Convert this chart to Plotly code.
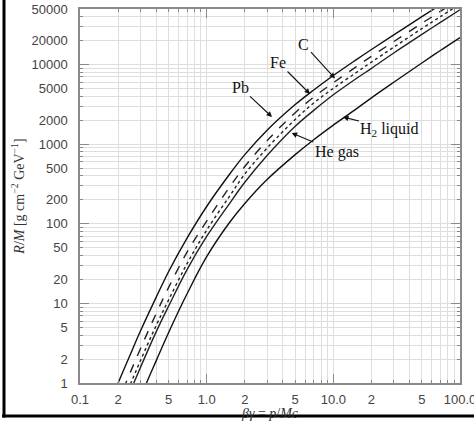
import plotly.graph_objects as go

# ---------------- data ----------------
bg_pb = [0.19, 0.2, 0.25, 0.3, 0.4, 0.5, 0.7, 1.0, 1.5, 2, 3, 5, 7, 10, 15, 20, 30, 50, 70]
rm_pb = [0.82, 1.0, 2.3, 4.5, 12, 25, 66, 165, 410, 740, 1500, 3150, 4800, 7300, 11400, 15500, 23600, 40000, 56500]

bg_fe = [0.22, 0.23, 0.25, 0.3, 0.4, 0.5, 0.7, 1.0, 1.5, 2, 3, 5, 7, 10, 15, 20, 30, 50, 70, 100]
rm_fe = [0.84, 1.0, 1.37, 2.7, 7.5, 15.8, 44, 108, 283, 525, 1110, 2490, 3910, 5920, 9290, 12720, 19460, 33100, 46700, 67600]

bg_c = [0.24, 0.25, 0.3, 0.4, 0.5, 0.7, 1.0, 1.5, 2, 3, 5, 7, 10, 15, 20, 30, 50, 70, 100]
rm_c = [0.83, 0.97, 1.91, 5.3, 11.0, 31.6, 83.4, 217, 422, 895, 2050, 3300, 5030, 7850, 10760, 16570, 28400, 40000, 57700]

bg_he = [0.25, 0.26, 0.3, 0.4, 0.5, 0.7, 1.0, 1.5, 2, 3, 5, 7, 10, 15, 20, 30, 50, 70, 100]
rm_he = [0.79, 0.92, 1.57, 4.42, 9.2, 26.6, 69.3, 176, 333, 721, 1680, 2660, 4180, 6600, 8990, 14000, 23970, 33950, 48900]

bg_h2 = [0.32, 0.335, 0.4, 0.5, 0.7, 1.0, 1.5, 2, 3, 5, 7, 10, 15, 20, 30, 50, 70, 100]
rm_h2 = [0.83, 1.0, 1.91, 4.28, 13.2, 38.6, 101.6, 180, 360, 740, 1140, 1740, 2740, 3826, 6000, 10480, 15070, 21900]

x_tickvals = [0.1, 0.2, 0.5, 1, 2, 5, 10, 20, 50, 100]
x_ticktext = ["0.1", "2", "5", "1.0", "2", "5", "10.0", "2", "5", "100.0"]
y_tickvals = [1, 2, 5, 10, 20, 50, 100, 200, 500, 1000, 2000, 5000, 10000, 20000, 50000]
y_ticktext = [str(v) for v in y_tickvals]
x_decades = [0.1, 1, 10, 100]
y_decades = [1, 10, 100, 1000, 10000]

x_minor = [m * d for d in [0.1, 1, 10] for m in range(1, 10)] + [100]
y_minor = [m * d for d in [1, 10, 100, 1000, 10000] for m in range(1, 10)]

# labels: (text, log10 bg of arrow tip, log10 R/M of arrow tip, ax, ay)
labels = [
    ("Pb", 0.516, 3.342, -32, -30),
    ("Fe", 0.816, 3.631, -32, -32),
    ("C", 1.013, 3.827, -31, -34),
    ("He gas", 0.671, 3.141, 45, 19),
    ("H<sub>2</sub> liquid", 1.076, 3.342, 47, 12),
]

# ---------------- figure ----------------
fig = go.Figure()
series = [
    (bg_pb, rm_pb, "solid", "#111111"),
    (bg_fe, rm_fe, "dash", "#222222"),
    (bg_c, rm_c, "dot", "#222222"),
    (bg_he, rm_he, "solid", "#222222"),
    (bg_h2, rm_h2, "solid", "#111111"),
]
for xs, ys, dash, col in series:
    fig.add_trace(go.Scatter(x=xs, y=ys, mode="lines",
                             line=dict(color=col, width=1.4, dash=dash, shape="spline", smoothing=1.0),
                             showlegend=False, hoverinfo="skip"))
# empty trace to carry the overlay axes (long decade ticks)
fig.add_trace(go.Scatter(x=[], y=[], xaxis="x2", yaxis="y2", showlegend=False, hoverinfo="skip"))

tickfont = dict(family="Liberation Sans, Arial, sans-serif", size=13, color="#444")
grid = "#dedede"
axcol = "#8a8a8a"
serif = "Liberation Serif, Times New Roman, serif"

fig.update_layout(
    template="none",
    width=474, height=421,
    margin=dict(l=80, r=14, t=9, b=38, pad=0),
    paper_bgcolor="white", plot_bgcolor="white",
    showlegend=False,
    xaxis=dict(type="log", range=[-1, 2], tickvals=x_tickvals, ticktext=x_ticktext,
               automargin=False, ticklabeloverflow="allow",
               ticks="inside", ticklen=3, tickcolor=axcol, tickwidth=1,
               showline=True, linecolor=axcol, linewidth=1.5, mirror="allticks",
               showgrid=True, gridcolor=grid, gridwidth=1, zeroline=False,
               tickfont=tickfont, ticklabelstandoff=4,
               minor=dict(tickvals=x_minor, ticks="inside", ticklen=3, tickcolor=axcol,
                          showgrid=True, gridcolor=grid, gridwidth=1),
               title=dict(text="<i>βγ</i> = <i>p</i>/<i>Mc</i>",
                          font=dict(family=serif, size=14, color="#333"),
                          standoff=2)),
    yaxis=dict(type="log", range=[0, 4.69897], tickvals=y_tickvals, ticktext=y_ticktext,
               automargin=False, ticklabeloverflow="allow",
               ticks="inside", ticklen=3, tickcolor=axcol, tickwidth=1,
               showline=True, linecolor=axcol, linewidth=1.5, mirror="allticks",
               showgrid=True, gridcolor=grid, gridwidth=1, zeroline=False,
               tickfont=tickfont, ticklabelstandoff=8,
               minor=dict(tickvals=y_minor, ticks="inside", ticklen=3, tickcolor=axcol,
                          showgrid=True, gridcolor=grid, gridwidth=1),
               title=dict(text="<i>R</i>/<i>M</i> [g cm<sup>−2</sup> GeV<sup>−1</sup>]",
                          font=dict(family=serif, size=14, color="#333"),
                          standoff=4)),
    xaxis2=dict(type="log", range=[-1, 2], overlaying="x", anchor="y", side="bottom",
                automargin=False,
                tickvals=x_decades, ticks="inside", ticklen=9, tickcolor=axcol, tickwidth=1,
                showticklabels=False, showgrid=False, zeroline=False,
                showline=True, linecolor=axcol, linewidth=1.5, mirror="allticks"),
    yaxis2=dict(type="log", range=[0, 4.69897], overlaying="y", anchor="x", side="left",
                automargin=False,
                tickvals=y_decades, ticks="inside", ticklen=9, tickcolor=axcol, tickwidth=1,
                showticklabels=False, showgrid=False, zeroline=False,
                showline=True, linecolor=axcol, linewidth=1.5, mirror="allticks"),
)

for text, lx, ly, ax, ay in labels:
    fig.add_annotation(x=lx, y=ly, xref="x", yref="y", text=text, showarrow=True,
                       ax=ax, ay=ay, arrowhead=2, arrowsize=1, arrowwidth=1.1, arrowcolor="#111",
                       font=dict(family=serif, size=16, color="#111"),
                       standoff=0, startstandoff=0)

# outer black frame pieces (left and bottom edges of the cropped figure border)
fig.add_shape(type="line", xref="paper", yref="paper", x0=-0.200, x1=-0.200, y0=-0.092, y1=1.05,
              line=dict(color="black", width=3))
fig.add_shape(type="line", xref="paper", yref="paper", x0=-0.205, x1=1.1, y0=-0.0885, y1=-0.0885,
              line=dict(color="black", width=3))

fig.write_html("out.html", config={"displayModeBar": False},
               post_script="document.body.style.margin='0px';")
